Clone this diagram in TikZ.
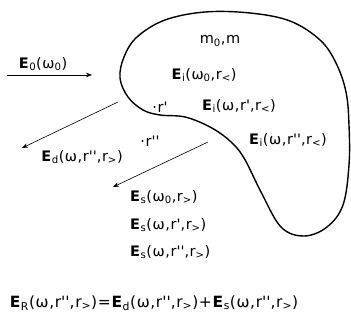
\documentclass[tikz,border=0pt]{standalone}
\usepackage{fontspec}
\setmainfont{DejaVu Sans}[LetterSpace=4]
\usetikzlibrary{arrows.meta}

\newcommand{\fld}[2]{\textbf{E}\textsubscript{#1}(#2)}
\newcommand{\rp}{r\textquotesingle}
\newcommand{\rpp}{r\textquotesingle\textquotesingle}
\newcommand{\rlt}{r\textsubscript{<}}
\newcommand{\rgt}{r\textsubscript{>}}

\begin{document}
\begin{tikzpicture}[x=1pt,y=-1pt,
  lbl/.style={font=\fontsize{14.5}{16}\selectfont,inner sep=0pt},
  ray/.style={-{Stealth[length=6pt,width=4.5pt]},semithick},
  body/.style={line width=1.4pt}
]
\useasboundingbox (0,0) rectangle (351,320);
% scattering body
\draw[body] plot[smooth cycle,tension=0.6] coordinates {
  (160,115) (143,110) (128,97) (120,78) (124,57) (137,37) (165,20)
  (205,12) (250,13) (290,21) (320,40) (336,63) (346,92) (349,125)
  (349,165) (343,205) (327,227) (304,236) (281,227) (261,192)
  (244,158) (230,141) (210,127) (185,117)};
% incident and scattered rays
\coordinate (inA) at (7,75);
\coordinate (inB) at (92,75);
\coordinate (dA) at (118,102);
\coordinate (dB) at (22,148);
\coordinate (sA) at (208,142);
\coordinate (sB) at (113,187);
\draw[ray] (inA) -- (inB);
\draw[ray] (dA) -- (dB);
\draw[ray] (sA) -- (sB);
% labels
\node[lbl] (inc) at (43,64) {\fld{0}{ω\textsubscript{0}}};
\node[lbl] (mass) at (220,41) {m\textsubscript{0},m};
\node[lbl] (ei0) at (204,75) {\fld{i}{ω\textsubscript{0},\rlt}};
\node[lbl] (pt1) at (160,107) {·\rp};
\node[lbl] (ei1) at (239,106) {\fld{i}{ω,\rp,\rlt}};
\node[lbl] (pt2) at (150,141) {·\rpp};
\node[lbl] (ei2) at (288,140) {\fld{i}{ω,\rpp,\rlt}};
\node[lbl] (ed) at (82,157) {\fld{d}{ω,\rpp,\rgt}};
\node[lbl,anchor=west] (es0) at (130,197) {\fld{s}{ω\textsubscript{0},\rgt}};
\node[lbl,anchor=west] (es1) at (130,225) {\fld{s}{ω,\rp,\rgt}};
\node[lbl,anchor=west] (es2) at (130,252) {\fld{s}{ω,\rpp,\rgt}};
\node[lbl,font=\fontsize{15.5}{17}\selectfont] (er) at (154,303)
  {\fld{R}{ω,\rpp,\rgt}=\fld{d}{ω,\rpp,\rgt}+\fld{s}{ω,\rpp,\rgt}};
\end{tikzpicture}
\end{document}
